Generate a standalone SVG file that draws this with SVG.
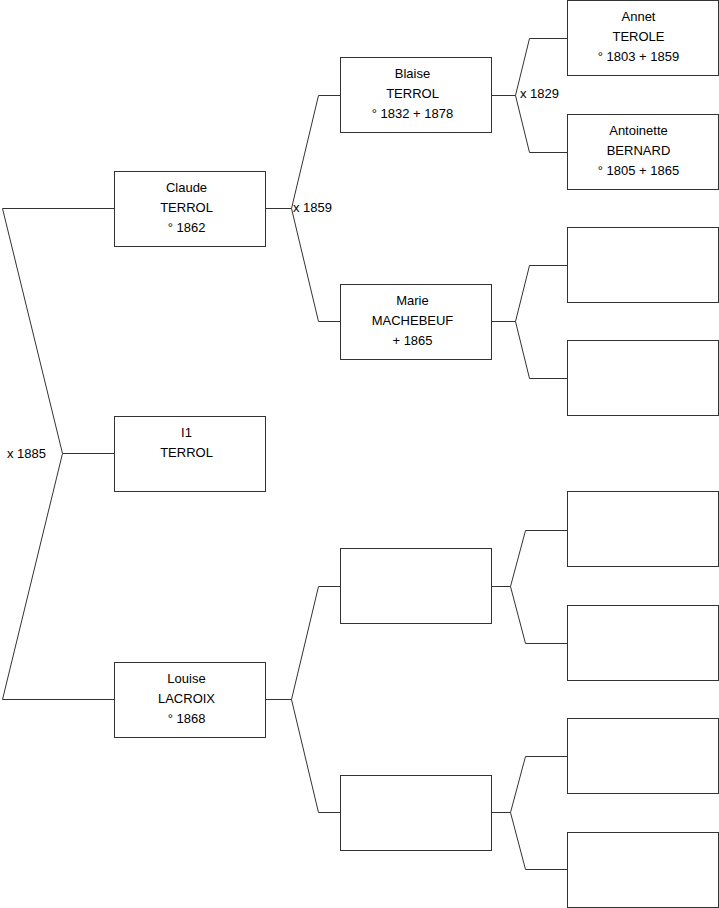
<svg xmlns="http://www.w3.org/2000/svg" width="719" height="908" viewBox="0 0 719 908">
<style>
.box{fill:#fff;stroke:#333;stroke-width:1}
path{fill:none;stroke:#333;stroke-width:1}
text{font-family:"Liberation Sans",Arial,sans-serif;font-size:13px;fill:#000}
.c{text-anchor:middle}
</style>
<rect width="719" height="908" style="fill:#fff;stroke:none"/>
<g id="connectors">
<path d="M114.5,208.5 H2.5 L62.5,453.5 L2.5,699.5 H114.5 M62.5,453.5 H114.5"/>
<path d="M340.5,95.5 H318.5 L291.5,208.5 L318.5,321.5 H340.5 M265.5,208.5 H291.5"/>
<path d="M340.5,586.5 H318.5 L291.5,699.5 L318.5,812.5 H340.5 M265.5,699.5 H291.5"/>
<path d="M567.5,38.5 H529.5 L515.5,95.5 L529.5,152.5 H567.5 M491.5,95.5 H515.5"/>
<path d="M567.5,265.5 H529.5 L515.5,321.5 L529.5,378.5 H567.5 M491.5,321.5 H515.5"/>
<path d="M567.5,530.5 H525.5 L510.5,586.5 L525.5,643.5 H567.5 M491.5,586.5 H510.5"/>
<path d="M567.5,756.5 H525.5 L510.5,812.5 L525.5,869.5 H567.5 M491.5,812.5 H510.5"/>
<text x="7" y="457.5">x 1885</text>
<text x="293" y="211.5">x 1859</text>
<text x="520" y="97.5">x 1829</text>
</g>
<g id="claude"><rect class="box" x="114.5" y="171.5" width="151" height="75"/>
<text class="c" x="186.5" y="192">Claude</text><text class="c" x="186.5" y="212">TERROL</text><text class="c" x="186.5" y="231.5">° 1862</text></g>
<g id="i1"><rect class="box" x="114.5" y="416.5" width="151" height="75"/>
<text class="c" x="186.5" y="437">I1</text><text class="c" x="186.5" y="457">TERROL</text></g>
<g id="louise"><rect class="box" x="114.5" y="662.5" width="151" height="75"/>
<text class="c" x="186.5" y="683">Louise</text><text class="c" x="186.5" y="703">LACROIX</text><text class="c" x="186.5" y="722.5">° 1868</text></g>
<g id="blaise"><rect class="box" x="340.5" y="57.5" width="151" height="75"/>
<text class="c" x="412.5" y="78">Blaise</text><text class="c" x="412.5" y="98">TERROL</text><text class="c" x="412.5" y="117.5">° 1832 + 1878</text></g>
<g id="marie"><rect class="box" x="340.5" y="284.5" width="151" height="75"/>
<text class="c" x="412.5" y="305">Marie</text><text class="c" x="412.5" y="325">MACHEBEUF</text><text class="c" x="412.5" y="344.5">+ 1865</text></g>
<g id="p3"><rect class="box" x="340.5" y="548.5" width="151" height="75"/></g>
<g id="p4"><rect class="box" x="340.5" y="775.5" width="151" height="75"/></g>
<g id="annet"><rect class="box" x="567.5" y="0.5" width="151" height="75"/>
<text class="c" x="638.5" y="21">Annet</text><text class="c" x="638.5" y="41">TEROLE</text><text class="c" x="638.5" y="60.5">° 1803 + 1859</text></g>
<g id="antoinette"><rect class="box" x="567.5" y="114.5" width="151" height="75"/>
<text class="c" x="638.5" y="135">Antoinette</text><text class="c" x="638.5" y="155">BERNARD</text><text class="c" x="638.5" y="174.5">° 1805 + 1865</text></g>
<g id="g3"><rect class="box" x="567.5" y="227.5" width="151" height="75"/></g>
<g id="g4"><rect class="box" x="567.5" y="340.5" width="151" height="75"/></g>
<g id="g5"><rect class="box" x="567.5" y="491.5" width="151" height="75"/></g>
<g id="g6"><rect class="box" x="567.5" y="605.5" width="151" height="75"/></g>
<g id="g7"><rect class="box" x="567.5" y="718.5" width="151" height="75"/></g>
<g id="g8"><rect class="box" x="567.5" y="832.5" width="151" height="75"/></g>
</svg>
